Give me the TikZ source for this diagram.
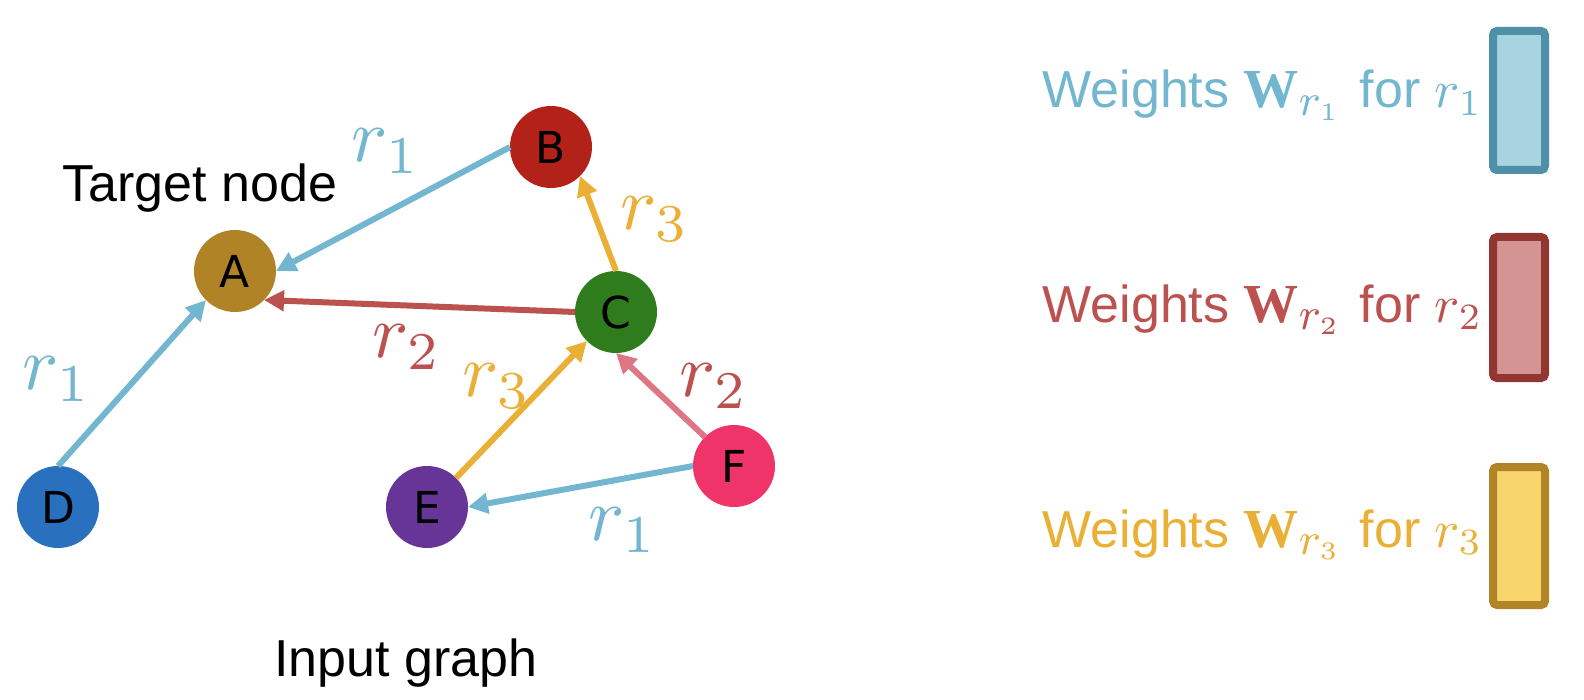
\documentclass[tikz,border=0pt]{standalone}
\usepackage{graphicx}
\usepackage[no-math]{fontspec}
\setmainfont{Liberation Sans}
\newfontfamily\nodefont{DejaVu Sans}
\newfontfamily\serifW{Liberation Serif}
\usetikzlibrary{arrows.meta}
\definecolor{eblue}{HTML}{73B6CF}
\definecolor{ered}{HTML}{BB524F}
\definecolor{eyellow}{HTML}{EAB036}
\definecolor{epink}{HTML}{DE7783}
\definecolor{cA}{HTML}{B08327}
\definecolor{cB}{HTML}{B22218}
\definecolor{cC}{HTML}{2F7C1C}
\definecolor{cD}{HTML}{2970BF}
\definecolor{cE}{HTML}{673598}
\definecolor{cF}{HTML}{EF3469}
\definecolor{bblue}{HTML}{4D90A8}
\definecolor{fblue}{HTML}{A8D3E0}
\definecolor{bred}{HTML}{923632}
\definecolor{fred}{HTML}{D49494}
\definecolor{byellow}{HTML}{B08427}
\definecolor{fyellow}{HTML}{F8D56D}
\newcommand{\elab}[1]{{\fontsize{10}{10}\selectfont\scalebox{3.8}{$r_{#1}$}}}
\newcommand{\wlab}[1]{{\fontsize{10}{10}\selectfont\scalebox{2.5}{$\mbox{\fontsize{11}{11}\selectfont\serifW\bfseries W}_{\mbox{\fontsize{9}{9}\selectfont$r_{\scriptscriptstyle #1}$}}$}}\hspace{9pt}for {\fontsize{10}{10}\selectfont\scalebox{2.65}{$r_{#1}$}}}
\begin{document}
\begin{tikzpicture}[x=0.5pt,y=-0.5pt,
  gnode/.style={circle,minimum size=41pt,inner sep=0pt,outer sep=0pt,font=\nodefont\fontsize{22}{22}\selectfont},
  edge/.style={line width=3pt,-{Triangle[length=10pt,width=10pt]}},
  elabel/.style={inner sep=0pt},
  title/.style={font=\fontsize{26}{26}\selectfont,inner sep=0pt,anchor=base},
  legend/.style={font=\fontsize{26}{26}\selectfont,inner sep=0pt,anchor=base east},
  wbox/.style={line width=4pt,rounded corners=2pt}]
\useasboundingbox (0,0) rectangle (1584,700);
% nodes
\node[gnode,fill=cA] (A) at (235,271) {A};
\node[gnode,fill=cB] (B) at (551,147) {B};
\node[gnode,fill=cC] (C) at (616,312) {C};
\node[gnode,fill=cD] (D) at (58,507) {D};
\node[gnode,fill=cE] (E) at (427,507) {E};
\node[gnode,fill=cF] (F) at (734,466) {F};
% edges
\draw[edge,eblue] (B.west) -- (A.east);
\draw[edge,ered] (C.west) -- (A.south east);
\draw[edge,eyellow] (C.north) -- (B.south east);
\draw[edge,eblue] (D.north) -- (A.south west);
\draw[edge,eyellow] (E.north east) -- (C.south west);
\draw[edge,epink] (F.north west) -- (C.south);
\draw[edge,eblue] (F.west) -- (E.east);
% edge labels
\node[elabel,text=eblue] (lBA) at (386,151) {\elab{1}};
\node[elabel,text=ered] (lCA) at (407,347) {\elab{2}};
\node[elabel,text=eyellow] (lCB) at (655,219) {\elab{3}};
\node[elabel,text=eblue] (lDA) at (57,379) {\elab{1}};
\node[elabel,text=eyellow] (lEC) at (497,386) {\elab{3}};
\node[elabel,text=ered] (lFC) at (714,386) {\elab{2}};
\node[elabel,text=eblue] (lFE) at (623,530) {\elab{1}};
% titles
\node[title] (target) at (200,202) {Target node};
\node[title] (input) at (406,676) {Input graph};
% legend
\node[legend,text=eblue] (leg1) at (1483,108) {Weights \wlab{1}};
\node[legend,text=ered] (leg2) at (1483,322) {Weights \wlab{2}};
\node[legend,text=eyellow] (leg3) at (1483,547) {Weights \wlab{3}};
\draw[wbox,draw=bblue,fill=fblue] (1493,31) rectangle (1545,170);
\draw[wbox,draw=bred,fill=fred] (1493,237) rectangle (1545,378);
\draw[wbox,draw=byellow,fill=fyellow] (1493,467) rectangle (1545,605);
\end{tikzpicture}
\end{document}
